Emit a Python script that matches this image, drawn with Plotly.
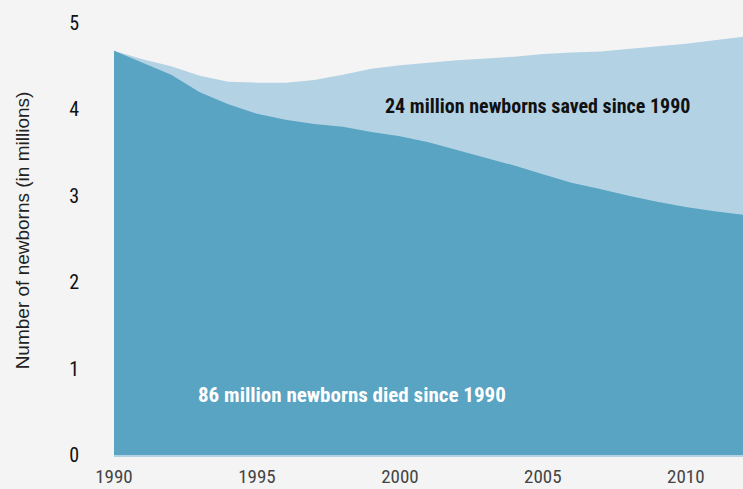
import plotly.graph_objects as go

# Annual newborn deaths (millions), 1990-2012
years = list(range(1990, 2013))
died = [4.68, 4.54, 4.40, 4.20, 4.06, 3.95, 3.88, 3.83, 3.80, 3.74, 3.69, 3.62,
        3.53, 3.44, 3.35, 3.25, 3.15, 3.08, 3.00, 2.93, 2.87, 2.82, 2.78]
# Deaths expected had 1990 mortality rates held (millions)
expected = [4.68, 4.58, 4.50, 4.39, 4.32, 4.31, 4.31, 4.34, 4.40, 4.47, 4.51, 4.54,
            4.57, 4.59, 4.61, 4.64, 4.66, 4.67, 4.70, 4.73, 4.76, 4.80, 4.84]

x_ticks = [1990, 1995, 2000, 2005, 2010]
y_ticks = [0, 1, 2, 3, 4, 5]

DARK = "rgb(88,164,194)"
LIGHT = "rgb(179,211,229)"
BG = "#f4f4f4"
NARROW = "Liberation Sans Narrow, Arial Narrow, Roboto Condensed, DejaVu Sans Condensed, sans-serif"

fig = go.Figure()
fig.add_trace(go.Scatter(x=years, y=expected, mode="lines", fill="tozeroy",
                         fillcolor=LIGHT, line=dict(color=LIGHT, width=0),
                         hoverinfo="skip", showlegend=False))
fig.add_trace(go.Scatter(x=years, y=died, mode="lines", fill="tozeroy",
                         fillcolor=DARK, line=dict(color=DARK, width=0),
                         hoverinfo="skip", showlegend=False))

fig.add_annotation(x=2004.8, y=4.045, text="<b>24 million newborns saved since 1990</b>",
                   showarrow=False, font=dict(family=NARROW, size=20, color="#111111"))
fig.add_annotation(x=1998.33, y=0.70, text="<b>86 million newborns died since 1990</b>",
                   showarrow=False, font=dict(family=NARROW, size=21, color="white"))

fig.update_layout(
    width=743, height=489,
    margin=dict(l=114, r=0, t=6, b=34),
    paper_bgcolor=BG, plot_bgcolor=BG,
    xaxis=dict(range=[1990, 2012], tickvals=x_ticks, showgrid=False, zeroline=False,
               showline=True, linecolor=LIGHT, linewidth=2, automargin=False,
               ticks="", ticklabelstandoff=3,
               tickfont=dict(family=NARROW, size=19, color="#444444")),
    yaxis=dict(range=[0, 5.197], tickvals=y_ticks, showgrid=False, zeroline=False,
               ticks="", ticklabelstandoff=34, automargin=False,
               tickfont=dict(family=NARROW, size=20, color="#111111"),
               title=dict(text="Number of newborns (in millions)", standoff=34,
                          font=dict(family="Liberation Sans, Arial, sans-serif",
                                    size=19, color="#222222"))),
)

fig.write_html("out.html")
